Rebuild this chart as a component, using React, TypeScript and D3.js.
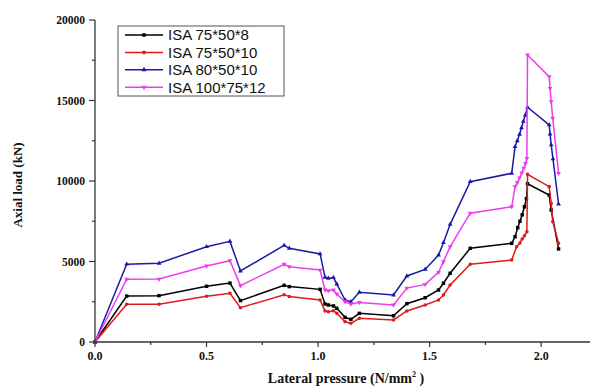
import * as d3 from "d3"

const seriesNames = ["ISA 75*50*8", "ISA 75*50*10", "ISA 80*50*10", "ISA 100*75*12"]

// [lateral pressure (N/mm2), axial load (kN)]
const isa75x50x8: [number, number][] = [
    [0, 0], [0.142, 2850], [0.287, 2880], [0.5, 3460], [0.605, 3660], [0.652, 2570],
    [0.848, 3520], [0.871, 3440], [1.009, 3270], [1.031, 2360], [1.046, 2300], [1.069, 2240],
    [1.084, 2090], [1.121, 1530], [1.147, 1410], [1.185, 1780], [1.338, 1630], [1.398, 2380],
    [1.48, 2750], [1.54, 3230], [1.562, 3650], [1.592, 4270], [1.682, 5820], [1.868, 6130],
    [1.883, 6540], [1.895, 7100], [1.905, 7500], [1.915, 7900], [1.925, 8400], [1.934, 8900],
    [1.939, 9830], [2.036, 9130], [2.045, 8200], [2.078, 5780],
]
const isa75x50x10: [number, number][] = [
    [0, 0], [0.142, 2340], [0.287, 2340], [0.5, 2840], [0.605, 3030], [0.652, 2130],
    [0.848, 2940], [0.871, 2820], [1.009, 2610], [1.031, 1930], [1.046, 1880], [1.069, 1940],
    [1.084, 1780], [1.121, 1260], [1.147, 1160], [1.185, 1470], [1.338, 1370], [1.398, 1930],
    [1.48, 2300], [1.54, 2610], [1.562, 2920], [1.592, 3540], [1.682, 4830], [1.868, 5090],
    [1.89, 5920], [1.905, 6150], [1.915, 6400], [1.925, 6600], [1.936, 6850], [1.939, 10420],
    [2.036, 9650], [2.045, 8610], [2.052, 7470], [2.078, 6130],
]
const isa80x50x10: [number, number][] = [
    [0, 0], [0.142, 4830], [0.287, 4890], [0.5, 5920], [0.605, 6250], [0.652, 4410],
    [0.848, 6000], [0.871, 5820], [1.009, 5470], [1.031, 4020], [1.046, 3960], [1.069, 4000],
    [1.084, 3600], [1.121, 2610], [1.147, 2500], [1.185, 3090], [1.338, 2920], [1.398, 4100],
    [1.48, 4510], [1.54, 5400], [1.562, 6170], [1.592, 7310], [1.682, 9960], [1.868, 10480],
    [1.883, 12130], [1.893, 12500], [1.903, 12900], [1.912, 13300], [1.92, 13700], [1.929, 14100],
    [1.939, 14580], [2.036, 13480], [2.04, 12920], [2.045, 12240], [2.053, 11370], [2.078, 8570],
]
const isa100x75x12: [number, number][] = [
    [0, 0], [0.142, 3900], [0.287, 3910], [0.5, 4720], [0.605, 5050], [0.652, 3500],
    [0.848, 4830], [0.871, 4680], [1.009, 4470], [1.031, 3230], [1.046, 3190], [1.069, 3230],
    [1.084, 2980], [1.121, 2500], [1.147, 2360], [1.185, 2460], [1.338, 2300], [1.398, 3350],
    [1.48, 3580], [1.54, 4330], [1.562, 4990], [1.592, 5920], [1.682, 8000], [1.868, 8400],
    [1.883, 9650], [1.893, 9900], [1.903, 10200], [1.913, 10500], [1.922, 10800], [1.93, 11100],
    [1.936, 11410], [1.939, 17830], [2.036, 16480], [2.04, 15760], [2.045, 14930], [2.052, 13890],
    [2.078, 10480],
]

const xTicks = [0, 0.5, 1.0, 1.5, 2.0]
const yTicks = [0, 5000, 10000, 15000, 20000]

const seriesData = [isa75x50x8, isa75x50x10, isa80x50x10, isa100x75x12]
const colors = ["#000000", "#dc1c1c", "#1a1aaa", "#ec3cec"]
const symbols = [d3.symbolSquare, d3.symbolCircle, d3.symbolTriangle, d3.symbolTriangle]

export default function App() {
    const width = 590
    const height = 387

    const x = d3.scaleLinear().domain([0, 2.21]).range([95, 588])
    const y = d3.scaleLinear().domain([0, 20000]).range([342, 20])

    const line = d3
        .line<[number, number]>()
        .x((d) => x(d[0]))
        .y((d) => y(d[1]))

    const axisColor = "#333"
    const serif = "'Liberation Serif', 'Times New Roman', serif"
    const minorX = d3.range(0.25, 2.21, 0.5)
    const minorY = d3.range(2500, 20000, 5000)

    const marker = (i: number, size: number) => {
        const path = d3.symbol().type(symbols[i]).size(size)()
        return path || ""
    }

    return (
        <div style={{ position: "absolute", left: 0, top: 0 }}>
            <svg width={width} height={height} style={{ display: "block", background: "#fff" }}>
                {/* Series */}
                {seriesData.map((data, i) => (
                    <g key={i}>
                        <path d={line(data) || ""} fill="none" stroke={colors[i]} strokeWidth={1.5} />
                        {data.map((d, j) => (
                            <path
                                key={j}
                                d={marker(i, i === 0 ? 12 : 10)}
                                transform={`translate(${x(d[0])},${y(d[1])})${i === 3 ? " rotate(180)" : ""}`}
                                fill={colors[i]}
                            />
                        ))}
                    </g>
                ))}

                {/* Y Axis */}
                <line x1={x(0)} x2={x(0)} y1={y(20000)} y2={y(0)} stroke={axisColor} strokeWidth={1.3} />
                {yTicks.map((t) => (
                    <g key={t} transform={`translate(${x(0)},${y(t)})`}>
                        <line x1={-6} x2={0} stroke={axisColor} strokeWidth={1.2} />
                        <text x={-10} dy="0.35em" textAnchor="end" fontSize={11.5} fontWeight="bold" fontFamily={serif} fill="#111">
                            {t}
                        </text>
                    </g>
                ))}
                {minorY.map((t) => (
                    <line key={t} x1={x(0) - 3} x2={x(0)} y1={y(t)} y2={y(t)} stroke={axisColor} strokeWidth={1.2} />
                ))}

                {/* X Axis */}
                <line x1={x(0)} x2={590} y1={y(0)} y2={y(0)} stroke={axisColor} strokeWidth={1.3} />
                {xTicks.map((t) => (
                    <g key={t} transform={`translate(${x(t)},${y(0)})`}>
                        <line y1={0} y2={5} stroke={axisColor} strokeWidth={1.2} />
                        <text y={18} textAnchor="middle" fontSize={12} fontWeight="bold" fontFamily={serif} fill="#111">
                            {t.toFixed(1)}
                        </text>
                    </g>
                ))}
                {minorX.map((t) => (
                    <line key={t} x1={x(t)} x2={x(t)} y1={y(0)} y2={y(0) + 3} stroke={axisColor} strokeWidth={1.2} />
                ))}

                {/* Axis titles */}
                <text
                    transform={`translate(22,185) rotate(-90)`}
                    textAnchor="middle"
                    fontSize={13}
                    fontWeight="bold"
                    fontFamily={serif}
                    fill="#111"
                >
                    Axial load (kN)
                </text>
                <text x={346} y={383} textAnchor="middle" fontSize={14} fontWeight="bold" fontFamily={serif} fill="#111">
                    Lateral pressure (N/mm
                    <tspan dy={-6} fontSize={8}>2</tspan>
                    <tspan dy={6}> )</tspan>
                </text>

                {/* Legend */}
                <rect x={118} y={26} width={166} height={70} fill="#fff" stroke="#555" strokeWidth={1} />
                {seriesNames.map((name, i) => {
                    const ly = 35 + i * 17.4
                    return (
                        <g key={name}>
                            <line x1={125} x2={163} y1={ly} y2={ly} stroke={colors[i]} strokeWidth={1.5} />
                            <path
                                d={marker(i, 12)}
                                transform={`translate(144,${ly})${i === 3 ? " rotate(180)" : ""}`}
                                fill={colors[i]}
                            />
                            <text x={168} y={ly} dy="0.36em" fontSize={15} fontFamily="'Liberation Sans', Arial, sans-serif" fill="#111">
                                {name}
                            </text>
                        </g>
                    )
                })}
            </svg>
        </div>
    )
}
